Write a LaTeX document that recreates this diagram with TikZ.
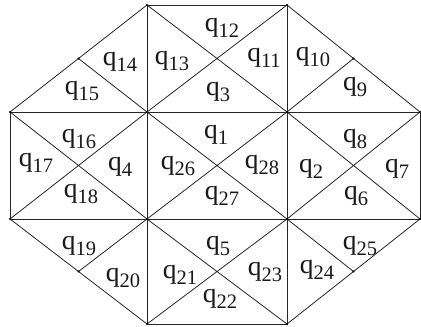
\documentclass[tikz,border=0pt]{standalone}
\usepackage{fontspec}
\setmainfont{Liberation Serif}
\usetikzlibrary{calc}
\newcommand\qlab[1]{q\raisebox{-6pt}{\fontsize{20.5}{20.5}\selectfont #1}}
\begin{document}
\begin{tikzpicture}[x=1pt,y=-1pt,
  edge/.style={draw=black!85,line width=0.8pt},
  lab/.style={inner sep=0pt,font=\fontsize{27.5}{27.5}\selectfont,text=black!90}]
\useasboundingbox (0,0) rectangle (421,327);
% vertices
\coordinate (a0) at (10,112);
\coordinate (a1) at (147,112);
\coordinate (a2) at (287,112);
\coordinate (a3) at (420,112);
\coordinate (b0) at (10,219);
\coordinate (b1) at (147,219);
\coordinate (b2) at (287,219);
\coordinate (b3) at (420,219);
\coordinate (t1) at (147,5);
\coordinate (t2) at (287,5);
\coordinate (u1) at (147,324);
\coordinate (u2) at (287,324);
\coordinate (mtl) at ($(t1)!0.5!(a0)$);
\coordinate (mtr) at ($(t2)!0.5!(a3)$);
\coordinate (mbl) at ($(b0)!0.5!(u1)$);
\coordinate (mbr) at ($(b3)!0.5!(u2)$);
% squares
\draw[edge] (t1) -- (t2) -- (a2) -- (a1) -- cycle;
\draw[edge] (t1) -- (a2) (t2) -- (a1);
\draw[edge] (a0) -- (a3) -- (b3) -- (b0) -- cycle;
\draw[edge] (a1) -- (b1) (a2) -- (b2);
\draw[edge] (a0) -- (b1) (a1) -- (b0);
\draw[edge] (a1) -- (b2) (a2) -- (b1);
\draw[edge] (a2) -- (b3) (a3) -- (b2);
\draw[edge] (b1) -- (u1) -- (u2) -- (b2);
\draw[edge] (b1) -- (u2) (b2) -- (u1);
% corner triangles
\draw[edge] (t1) -- (a0) (mtl) -- (a1);
\draw[edge] (t2) -- (a3) (mtr) -- (a2);
\draw[edge] (b0) -- (u1) (mbl) -- (b1);
\draw[edge] (b3) -- (u2) (mbr) -- (b2);
% dots
\foreach \p in {a0,a1,a2,a3,b0,b1,b2,b3,t1,t2,u1,u2,mtl,mtr,mbl,mbr}
  \fill[black] (\p) circle (1.1pt);
% labels
\node[lab] (l12) at (222,28) {\qlab{12}};
\node[lab] (l13) at (172,61) {\qlab{13}};
\node[lab] (l11) at (264,58) {\qlab{11}};
\node[lab] (l3)  at (218,92) {\qlab{3}};
\node[lab] (l14) at (120,62) {\qlab{14}};
\node[lab] (l15) at (82,91) {\qlab{15}};
\node[lab] (l10) at (313,57) {\qlab{10}};
\node[lab] (l9)  at (355,87) {\qlab{9}};
\node[lab] (l16) at (79,139) {\qlab{16}};
\node[lab] (l17) at (36,163) {\qlab{17}};
\node[lab] (l4)  at (120,167) {\qlab{4}};
\node[lab] (l18) at (81,194) {\qlab{18}};
\node[lab] (l1)  at (216,135) {\qlab{1}};
\node[lab] (l26) at (178,166) {\qlab{26}};
\node[lab] (l28) at (262,165) {\qlab{28}};
\node[lab] (l27) at (222,196) {\qlab{27}};
\node[lab] (l8)  at (355,139) {\qlab{8}};
\node[lab] (l2)  at (311,169) {\qlab{2}};
\node[lab] (l7)  at (397,169) {\qlab{7}};
\node[lab] (l6)  at (356,196) {\qlab{6}};
\node[lab] (l19) at (79,246) {\qlab{19}};
\node[lab] (l20) at (123,278) {\qlab{20}};
\node[lab] (l5)  at (218,246) {\qlab{5}};
\node[lab] (l21) at (180,275) {\qlab{21}};
\node[lab] (l23) at (265,272) {\qlab{23}};
\node[lab] (l22) at (220,299) {\qlab{22}};
\node[lab] (l24) at (317,270) {\qlab{24}};
\node[lab] (l25) at (360,246) {\qlab{25}};
\end{tikzpicture}
\end{document}
